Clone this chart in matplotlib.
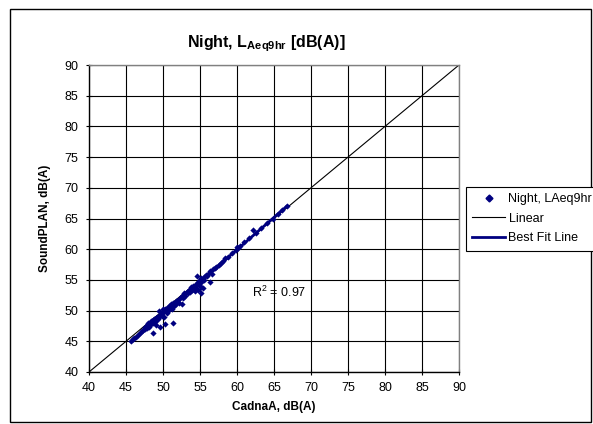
import numpy as np
import matplotlib
matplotlib.use("Agg")
import matplotlib.pyplot as plt
from matplotlib.lines import Line2D
from matplotlib.patches import Rectangle

plt.rcParams['font.family'] = ['Liberation Sans', 'DejaVu Sans']
plt.rcParams['mathtext.fontset'] = 'custom'
plt.rcParams['mathtext.rm'] = 'Liberation Sans'
plt.rcParams['mathtext.it'] = 'Liberation Sans:italic'
plt.rcParams['mathtext.bf'] = 'Liberation Sans:bold'

# CadnaA (x) vs SoundPLAN (y), dB(A)
cadna = [45.7, 45.9, 46.1, 46.3, 46.6, 46.9, 47.1, 47.3, 47.5, 47.6, 47.8, 47.9, 48.0, 48.1,
         48.2, 48.3, 48.4, 48.5, 48.6, 48.7, 48.7, 48.8, 48.9, 49.0, 49.0, 49.1, 49.2, 49.3,
         49.4, 49.5, 49.5, 49.6, 49.7, 49.8, 49.9, 50.0, 50.0, 50.1, 50.2, 50.3, 50.3, 50.5,
         50.6, 50.7, 50.8, 51.0, 51.1, 51.2, 51.4, 51.4, 51.5, 51.7, 51.8, 52.0, 52.1, 52.3,
         52.5, 52.5, 52.7, 52.9, 53.0, 53.2, 53.4, 53.5, 53.6, 53.8, 53.9, 54.0, 54.1, 54.2,
         54.3, 54.4, 54.5, 54.6, 54.6, 54.7, 54.8, 54.9, 55.0, 55.0, 55.1, 55.2, 55.2, 55.3,
         55.4, 55.5, 55.6, 55.8, 56.0, 56.2, 56.4, 56.4, 56.6, 56.8, 57.0, 57.2, 57.5, 57.8,
         58.1, 58.4, 58.8, 59.3, 59.8, 60.0, 60.2, 60.4, 61.0, 61.6, 62.1, 62.5, 63.3, 64.0,
         64.8, 65.5, 66.1, 66.7]
soundplan = [45.1, 45.3, 45.6, 45.7, 46.0, 46.3, 46.6, 46.9, 47.0, 47.4, 47.2, 47.6, 47.9, 47.3,
             48.0, 47.7, 48.3, 48.0, 48.4, 46.3, 47.9, 48.6, 48.2, 48.8, 47.6, 48.5, 49.0, 48.7,
             49.2, 48.9, 50.0, 47.4, 49.4, 49.8, 49.2, 49.7, 50.2, 49.0, 49.9, 47.8, 50.3, 49.6,
             50.4, 50.0, 50.7, 50.4, 51.0, 50.2, 47.9, 51.2, 50.8, 51.5, 51.0, 51.8, 51.3, 52.1,
             51.1, 52.4, 52.0, 52.8, 52.4, 53.1, 52.8, 53.4, 53.0, 53.8, 53.3, 54.0, 53.5, 53.9,
             53.2, 54.2, 53.7, 54.5, 55.6, 53.4, 54.8, 54.2, 55.0, 54.5, 53.9, 52.9, 55.3, 54.8,
             53.6, 55.5, 55.0, 55.8, 55.6, 56.2, 54.7, 56.4, 56.0, 56.8, 56.9, 57.1, 57.4, 57.8,
             58.0, 58.5, 58.8, 59.3, 59.9, 60.4, 60.2, 60.6, 61.2, 61.8, 63.1, 62.6, 63.5, 64.3,
             65.0, 65.8, 66.4, 67.0]
r2_label = "R$^2$ = 0.97"
ticks = [40, 45, 50, 55, 60, 65, 70, 75, 80, 85, 90]

x = np.array(cadna)
y = np.array(soundplan)
slope, intercept = np.polyfit(x, y, 1)
fit_x = np.array([x.min(), x.max()])
fit_y = slope * fit_x + intercept

fig = plt.figure(figsize=(5.93, 4.24), dpi=100)
fig.patches.append(Rectangle((10 / 593, 2 / 424), 581 / 593, 413 / 424,
                             transform=fig.transFigure, fill=False,
                             edgecolor='black', linewidth=1.0))
ax = fig.add_axes([89 / 593, 52 / 424, 370 / 593, 307 / 424])

ax.set_xlim(40, 90)
ax.set_ylim(40, 90)
ax.set_xticks(ticks)
ax.set_yticks(ticks)
ax.grid(True, color='black', linewidth=0.8)
ax.set_axisbelow(True)
for s in ax.spines.values():
    s.set_color('#808080')
    s.set_linewidth(1.0)
ax.spines['left'].set_color('black')
ax.spines['bottom'].set_color('black')
ax.tick_params(direction='inout', length=5, width=0.8, labelsize=9, pad=5)

ax.plot([40, 90], [40, 90], color='black', linewidth=0.8, zorder=2)
ax.scatter(x, y, marker='D', s=10, color='#000080', linewidths=0, zorder=3)
ax.plot(fit_x, fit_y, color='#000080', linewidth=2.0, zorder=4)
ax.text(62, 53, r2_label, fontsize=9, ha='left', va='center')

ax.set_title(r'Night, L$_{\mathbf{Aeq9hr}}$ [dB(A)]', fontsize=11.5, fontweight='bold', pad=13,
             x=0.48)
ax.set_xlabel('CadnaA, dB(A)', fontsize=8.5, fontweight='bold', labelpad=5)
ax.set_ylabel('SoundPLAN, dB(A)', fontsize=8.5, fontweight='bold', labelpad=10)

handles = [Line2D([], [], linestyle='none', marker='D', markersize=3.5,
                  markerfacecolor='#000080', markeredgecolor='#000080'),
           Line2D([], [], color='black', linewidth=0.8),
           Line2D([], [], color='#000080', linewidth=2.0)]
labels = ['Night, LAeq9hr', 'Linear', 'Best Fit Line']
leg = fig.legend(handles, labels, loc='upper left', bbox_to_anchor=(466 / 593, 237 / 424),
                 bbox_transform=fig.transFigure, fontsize=9, frameon=True, fancybox=False,
                 edgecolor='black', framealpha=1, handlelength=2.6, handletextpad=0.3,
                 borderpad=0.5, labelspacing=0.6, borderaxespad=0)
leg.get_frame().set_linewidth(0.8)

fig.savefig('out.png', dpi=100)
